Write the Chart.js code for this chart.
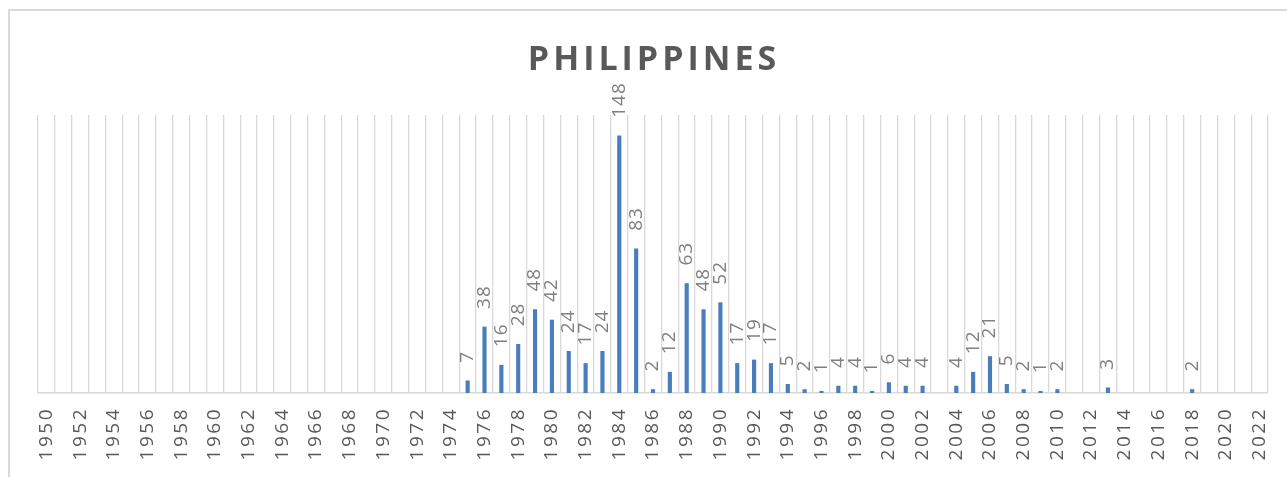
<!DOCTYPE html>
<html>
<head>
<meta charset="utf-8">
<script src="https://cdn.jsdelivr.net/npm/chart.js@4/dist/chart.umd.min.js"></script>
<style>
  html, body { margin: 0; padding: 0; background: #ffffff; }
  #wrap { width: 1287px; height: 477px; position: relative; }
</style>
</head>
<body>
<div id="wrap"><canvas id="myChart"></canvas></div>
<script>
'use strict';

let chartTitle = 'PHILIPPINES';

let years = ['1950','1951','1952','1953','1954','1955','1956','1957','1958','1959',
  '1960','1961','1962','1963','1964','1965','1966','1967','1968','1969',
  '1970','1971','1972','1973','1974','1975','1976','1977','1978','1979',
  '1980','1981','1982','1983','1984','1985','1986','1987','1988','1989',
  '1990','1991','1992','1993','1994','1995','1996','1997','1998','1999',
  '2000','2001','2002','2003','2004','2005','2006','2007','2008','2009',
  '2010','2011','2012','2013','2014','2015','2016','2017','2018','2019',
  '2020','2021','2022'];

// one value per year, null where nothing is plotted
let counts = [null,null,null,null,null,null,null,null,null,null,
  null,null,null,null,null,null,null,null,null,null,
  null,null,null,null,null,7,38,16,28,48,
  42,24,17,24,148,83,2,12,63,48,
  52,17,19,17,5,2,1,4,4,1,
  6,4,4,null,4,12,21,5,2,1,
  2,null,null,3,null,null,null,null,2,null,
  null,null,null];

let barColor = '#4a7ebb';
let gridColor = '#d9d9d9';

// frame + title + spacing for the tick text
let decoPlugin = {
  id: 'deco',
  beforeDraw(chart) {
    let ctx = chart.ctx;
    ctx.save();
    ctx.strokeStyle = gridColor;
    ctx.lineWidth = 2;
    ctx.beginPath();
    ctx.moveTo(9, 477);
    ctx.lineTo(9, 10);
    ctx.lineTo(1287, 10);
    ctx.stroke();
    ctx.restore();
    ctx.letterSpacing = '2.5px';
  },
  afterDraw(chart) {
    let ctx = chart.ctx;
    ctx.save();
    ctx.font = 'bold 34px "Open Sans"';
    ctx.letterSpacing = '4px';
    ctx.fillStyle = '#595959';
    ctx.textAlign = 'center';
    ctx.textBaseline = 'alphabetic';
    ctx.fillText(chartTitle, 654, 70);
    ctx.restore();
  }
};

// rotated value labels above the bars
let valueLabels = {
  id: 'valueLabels',
  afterDatasetsDraw(chart) {
    let ctx = chart.ctx;
    let meta = chart.getDatasetMeta(0);
    meta.data.forEach(function (bar, i) {
      let v = counts[i];
      if (v === null) return;
      ctx.save();
      ctx.translate(bar.x, bar.y - 18);
      ctx.rotate(-Math.PI / 2);
      ctx.font = '19px "Open Sans"';
      ctx.letterSpacing = '1px';
      ctx.fillStyle = '#808080';
      ctx.textAlign = 'left';
      ctx.textBaseline = 'middle';
      ctx.fillText(String(v), 0, 0);
      ctx.restore();
    });
  }
};

let ctx = document.getElementById('myChart').getContext('2d');
let myChart = new Chart(ctx, {
  type: 'bar',
  data: {
    labels: years,
    datasets: [{
      label: chartTitle,
      data: counts,
      backgroundColor: barColor,
      borderWidth: 0,
      barThickness: 3.5
    }]
  },
  options: {
    responsive: true,
    maintainAspectRatio: false,
    animation: false,
    layout: {
      padding: { top: 115, left: 38, right: 19, bottom: 0 }
    },
    plugins: {
      legend: { display: false },
      title: { display: false },
      tooltip: { enabled: false }
    },
    scales: {
      x: {
        offset: true,
        grid: {
          offset: true,
          color: gridColor,
          lineWidth: 1.3,
          drawTicks: false
        },
        border: { color: gridColor, width: 1.5 },
        ticks: {
          autoSkip: false,
          maxRotation: 90,
          minRotation: 90,
          padding: 14,
          color: '#595959',
          font: { family: '"Open Sans"', size: 19 },
          callback: function (val, i) {
            return i % 2 === 0 ? years[i] : '';
          }
        },
        afterFit: function (scale) {
          scale.height = 84;
          scale.paddingLeft = 0;
          scale.paddingRight = 0;
        }
      },
      y: {
        display: false,
        min: 0,
        max: 160
      }
    }
  },
  plugins: [decoPlugin, valueLabels]
});
</script>
</body>
</html>
